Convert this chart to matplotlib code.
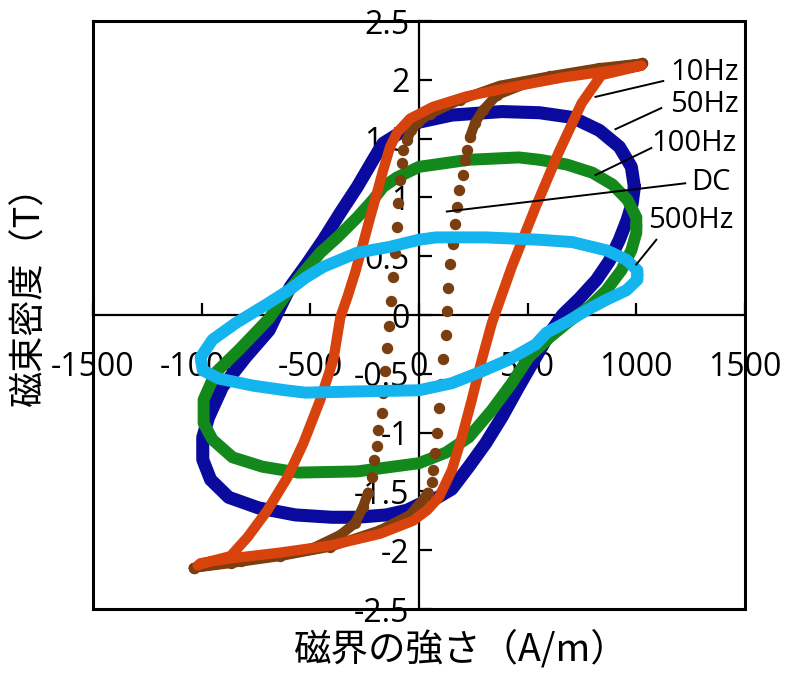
import numpy as np
import matplotlib
matplotlib.use("Agg")
import matplotlib.pyplot as plt
from matplotlib.patches import Rectangle

plt.rcParams['font.family'] = ['Noto Sans CJK JP', 'DejaVu Sans']
plt.rcParams['axes.unicode_minus'] = False

# ---------------- data ----------------
x_ticks = [-1500, -1000, -500, 0, 500, 1000, 1500]
x_tick_labels = ["-1500", "-1000", "-500", "0", "500", "1000", "1500"]
y_ticks = [-2.5, -2, -1.5, -1, -0.5, 0, 0.5, 1, 1.5, 2, 2.5]
y_tick_labels = ["-2.5", "-2", "-1.5", "-1", "-0.5", "0", "0.5", "1", "1.5", "2", "2.5"]

# 50Hz loop
h50 = [991, 977, 922, 830, 706, 555, 381, 151, 0, -87, -165, -211, -284, -362, -440, -514,
       -592, -651, -690, -798, -904, -968, -995, -995, -959, -876, -739, -569, -400, -284, -150, -55,
       0, 87, 151, 229, 307, 381, 459, 537, 600, 660, 738, 817, 876, 922, 958, 981, 991]
b50 = [1.09, 1.26, 1.43, 1.57, 1.68, 1.72, 1.73, 1.70, 1.64, 1.55, 1.46, 1.32, 1.09, 0.87, 0.64, 0.44,
       0.24, 0.02, -0.13, -0.36, -0.61, -0.87, -1.04, -1.23, -1.40, -1.55, -1.64, -1.70, -1.72, -1.72, -1.70, -1.66,
       -1.61, -1.55, -1.48, -1.29, -1.09, -0.87, -0.61, -0.36, -0.16, 0.00, 0.14, 0.30, 0.46, 0.64, 0.81, 0.95, 1.09]

# 100Hz loop
h100 = [1000, 1000, 959, 890, 798, 679, 555, 459, 229, 0, -101, -165, -211, -284, -376, -454,
        -532, -605, -690, -830, -936, -991, -991, -950, -858, -720, -555, -284, 0, 124, 229, 335,
        427, 505, 601, 693, 784, 862, 931, 977, 1000, 1000]
b100 = [0.76, 0.83, 0.98, 1.11, 1.21, 1.28, 1.32, 1.34, 1.32, 1.26, 1.17, 1.09, 0.98, 0.83, 0.66, 0.53,
        0.36, 0.19, -0.03, -0.30, -0.49, -0.72, -0.92, -1.06, -1.21, -1.29, -1.34, -1.33, -1.26, -1.17, -1.04, -0.81,
        -0.58, -0.36, -0.19, -0.05, 0.07, 0.21, 0.38, 0.55, 0.70, 0.76]

# 500Hz loop
h500 = [1005, 1005, 954, 862, 706, 555, 307, 78, 0, -133, -284, -440, -520, -592, -693, -844,
        -950, -1005, -995, -922, -766, -615, -523, -284, 0, 151, 275, 413, 537, 587, 679, 771,
        862, 954, 1005, 1005]
b500 = [0.34, 0.38, 0.47, 0.55, 0.62, 0.64, 0.66, 0.66, 0.64, 0.58, 0.53, 0.41, 0.32, 0.22, 0.10, -0.07,
        -0.21, -0.36, -0.47, -0.54, -0.60, -0.64, -0.66, -0.65, -0.64, -0.58, -0.49, -0.38, -0.25, -0.15, -0.06, 0.04,
        0.13, 0.21, 0.30, 0.34]

# 10Hz loop
h10 = [1023, 890, 661, 431, 220, 64, -41, -101, -133, -165, -193, -225, -261, -294, -330, -362,
       -394, -454, -532, -605, -697, -789, -867, -972, -1018, -1005, -867, -638, -408, -179, -28, 37,
       92, 151, 197, 243, 289, 335, 427, 537, 642, 748, 839, 1023]
b10 = [2.12, 2.08, 2.02, 1.94, 1.86, 1.77, 1.67, 1.55, 1.43, 1.23, 1.04, 0.83, 0.58, 0.36, 0.15, -0.02,
       -0.38, -0.72, -1.09, -1.38, -1.66, -1.89, -2.05, -2.10, -2.13, -2.11, -2.07, -2.02, -1.96, -1.86, -1.75, -1.66,
       -1.55, -1.32, -1.04, -0.72, -0.38, -0.07, 0.41, 0.92, 1.38, 1.80, 2.04, 2.12]

# DC loop (measured points)
h_dc_up = [-1037, -867, -638, -408, -179, -41, 18, 41, 60, 64, 73, 83, 92, 101, 110, 124, 128,
           133, 142, 156, 165, 174, 183, 202, 211, 220, 234, 257, 294, 358, 509, 693, 876, 1028]
b_dc_up = [-2.15, -2.11, -2.05, -1.97, -1.83, -1.70, -1.57, -1.51, -1.42, -1.32, -1.17, -1.00, -0.79, -0.59, -0.37, -0.17, 0.03,
           0.23, 0.43, 0.60, 0.77, 0.92, 1.06, 1.19, 1.32, 1.40, 1.51, 1.63, 1.74, 1.87, 1.98, 2.05, 2.10, 2.14]
h_dc_dn = [1028, 830, 601, 372, 188, 50, -5, -37, -55, -73, -78, -87, -96, -101, -110, -119, -128,
           -138, -147, -156, -165, -170, -188, -193, -206, -216, -234, -257, -294, -362, -486, -638, -821, -1037]
b_dc_dn = [2.14, 2.10, 2.03, 1.95, 1.83, 1.71, 1.64, 1.57, 1.49, 1.40, 1.29, 1.15, 0.95, 0.75, 0.53, 0.32, 0.12,
           -0.09, -0.28, -0.48, -0.66, -0.83, -0.98, -1.11, -1.23, -1.38, -1.51, -1.63, -1.77, -1.87, -1.98, -2.04, -2.09, -2.15]

# ---------------- figure ----------------
fig = plt.figure(figsize=(8, 6.8), dpi=100)
ax = fig.add_axes([0.11625, 0.1044, 0.815, 0.8647])
ax.set_xlim(-1500, 1500)
ax.set_ylim(-2.5, 2.5)

c_blue = '#0A0A9E'
c_green = '#12891A'
c_lblue = '#14B4EE'
c_orange = '#D8420C'
c_brown = '#7A3E10'

kw = dict(solid_joinstyle='round', solid_capstyle='round')
ax.plot(h50, b50, color=c_blue, lw=9.4, zorder=3, **kw)
ax.plot(h100, b100, color=c_green, lw=8.6, zorder=4, **kw)

for hh, bb in ((h_dc_up, b_dc_up), (h_dc_dn, b_dc_dn)):
    hh = np.asarray(hh, float)
    bb = np.asarray(bb, float)
    dense = np.abs(bb) >= 1.45
    ax.plot(np.ma.masked_where(~dense, hh), np.ma.masked_where(~dense, bb),
            color=c_brown, lw=7.2, zorder=5, **kw)
    ax.plot(hh, bb, linestyle='none', marker='o', ms=7.2, color=c_brown, zorder=5)

ax.plot(h10, b10, color=c_orange, lw=7.4, zorder=6, **kw)
ax.plot(h500, b500, color=c_lblue, lw=8.6, zorder=7, **kw)

# axes through the origin
for s in ('top', 'right'):
    ax.spines[s].set_visible(False)
ax.spines['left'].set_position(('data', 0))
ax.spines['bottom'].set_position(('data', 0))
ax.spines['left'].set_linewidth(1.6)
ax.spines['bottom'].set_linewidth(1.6)
ax.add_patch(Rectangle((0, 0), 1, 1, transform=ax.transAxes, fill=False,
                       lw=2.2, edgecolor='black', clip_on=False, zorder=10))

tick_font = ['Open Sans', 'DejaVu Sans']
ax.set_xticks(x_ticks)
ax.set_xticklabels(x_tick_labels, family=tick_font)
ax.set_yticks(y_ticks)
ax.set_yticklabels(y_tick_labels, family=tick_font)
ax.tick_params(axis='x', direction='in', length=9, width=1.6, pad=26, labelsize=23)
ax.tick_params(axis='y', direction='in', length=9, width=1.6, pad=7, labelsize=23)
for t in ax.get_xticklabels() + ax.get_yticklabels():
    t.set_zorder(12)

# leader lines and series labels
leaders = [
    ("10Hz", (812, 1.855), (1124, 1.99), (1156, 2.06)),
    ("50Hz", (904, 1.58), (1115, 1.76), (1156, 1.79)),
    ("100Hz", (812, 1.19), (1069, 1.42), (1069, 1.455)),
    ("DC", (128, 0.88), (1225, 1.12), (1252, 1.13)),
    ("500Hz", (1000, 0.43), (1092, 0.64), (1055, 0.80)),
]
for name, p0, p1, pt in leaders:
    ax.plot([p0[0], p1[0]], [p0[1], p1[1]], color='black', lw=1.4, zorder=11)
    ax.text(pt[0], pt[1], name, fontsize=21, family=tick_font, ha='left', va='center', zorder=12)

fig.text(460 / 800, 1 - 650 / 680, "磁界の強さ（A/m）", fontsize=27, ha='center', va='center')
fig.text(30 / 800, 1 - 287 / 680, "磁束密度（T）", fontsize=26, ha='center', va='center', rotation=90)

fig.savefig("out.png", dpi=100)
